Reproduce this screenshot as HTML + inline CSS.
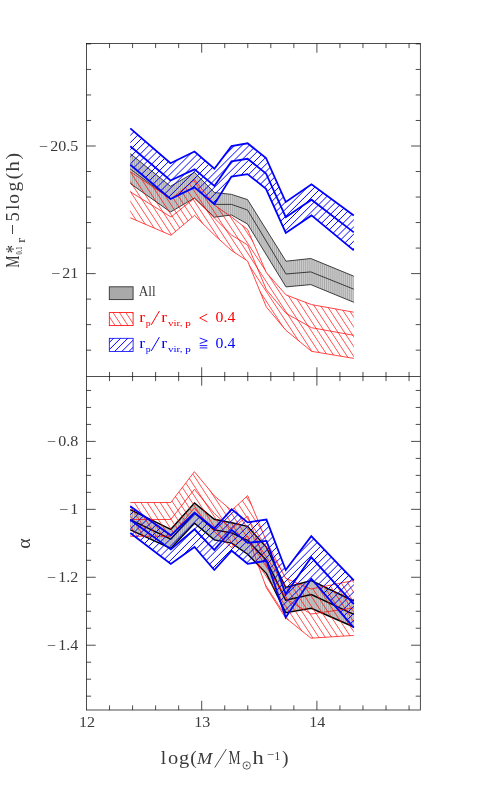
<!DOCTYPE html>
<html><head><meta charset="utf-8"><title>chart</title>
<style>html,body{margin:0;padding:0;background:#fff}svg{display:block;will-change:transform}text{font-family:"Liberation Serif",serif}</style></head><body>
<svg width="491" height="795" viewBox="0 0 491 795">
<defs>
<clipPath id="ctb"><polygon points="130.3,128.4 170.5,163.3 194.5,151.5 214.4,168.8 231.5,146.1 247.6,143.3 266.0,158.0 285.8,202.0 311.5,184.3 353.8,215.4 353.8,250.4 311.5,215.4 285.8,232.9 266.0,188.8 247.6,174.1 231.5,176.6 214.4,204.2 194.5,187.4 170.5,199.0 130.3,164.8"/></clipPath>
<clipPath id="ctg"><polygon points="130.3,153.7 170.5,186.3 194.5,172.4 214.4,192.5 231.5,194.4 247.5,199.6 286.0,261.2 310.8,258.5 353.8,276.2 353.8,302.3 310.8,284.6 286.0,286.9 247.5,224.0 231.5,215.0 214.4,217.2 194.5,198.0 170.5,212.0 130.3,183.5"/></clipPath>
<clipPath id="ctr"><polygon points="130.3,171.7 171.0,199.1 194.5,179.6 214.4,205.0 231.5,217.0 247.6,229.5 266.3,272.5 286.0,294.9 311.5,304.6 353.8,312.2 353.8,358.4 311.5,351.3 286.0,330.4 266.3,306.9 247.6,261.0 231.5,250.5 214.4,235.0 194.5,215.4 171.0,235.3 130.3,217.8"/></clipPath>
<clipPath id="cbb"><polygon points="130.3,506.3 170.8,535.3 194.5,512.6 214.3,528.5 231.7,509.3 247.6,522.4 266.5,519.6 285.7,570.0 311.3,536.1 353.8,580.4 353.8,627.7 311.3,578.7 285.7,617.4 266.5,560.8 247.6,563.8 231.7,550.7 214.3,570.0 194.5,547.0 170.8,563.9 130.3,533.0"/></clipPath>
<clipPath id="cbg"><polygon points="130.3,509.6 170.8,529.3 194.5,503.0 214.3,519.3 231.7,522.8 247.6,526.3 266.5,547.4 285.7,587.4 311.3,580.6 353.8,601.0 353.8,627.0 311.3,608.3 285.7,612.6 266.5,573.6 247.6,554.2 231.7,543.1 214.3,539.9 194.5,523.2 170.8,548.5 130.3,529.8"/></clipPath>
<clipPath id="cbr"><polygon points="130.3,502.5 170.8,502.5 194.4,471.7 214.3,495.8 231.5,510.5 247.7,495.6 266.3,541.0 285.5,578.2 311.0,589.0 353.8,580.5 353.8,635.4 311.0,638.2 285.5,617.8 266.3,587.7 247.7,536.0 231.5,547.5 214.3,531.5 194.4,508.0 170.8,536.3 130.3,536.3"/></clipPath>
<clipPath id="lr"><rect x="109.3" y="312.6" width="23.8" height="13"/></clipPath>
<clipPath id="lb"><rect x="109.3" y="338.3" width="23.8" height="13.1"/></clipPath>
</defs>
<polygon points="130.3,153.7 170.5,186.3 194.5,172.4 214.4,192.5 231.5,194.4 247.5,199.6 286.0,261.2 310.8,258.5 353.8,276.2 353.8,302.3 310.8,284.6 286.0,286.9 247.5,224.0 231.5,215.0 214.4,217.2 194.5,198.0 170.5,212.0 130.3,183.5" fill="#d0d0d0"/>
<path clip-path="url(#ctg)" d="M130.60 100V700M132.52 100V700M134.44 100V700M136.36 100V700M138.28 100V700M140.20 100V700M142.12 100V700M144.04 100V700M145.96 100V700M147.88 100V700M149.80 100V700M151.72 100V700M153.64 100V700M155.56 100V700M157.48 100V700M159.40 100V700M161.32 100V700M163.24 100V700M165.16 100V700M167.08 100V700M169.00 100V700M170.92 100V700M172.84 100V700M174.76 100V700M176.68 100V700M178.60 100V700M180.52 100V700M182.44 100V700M184.36 100V700M186.28 100V700M188.20 100V700M190.12 100V700M192.04 100V700M193.96 100V700M195.88 100V700M197.80 100V700M199.72 100V700M201.64 100V700M203.56 100V700M205.48 100V700M207.40 100V700M209.32 100V700M211.24 100V700M213.16 100V700M215.08 100V700M217.00 100V700M218.92 100V700M220.84 100V700M222.76 100V700M224.68 100V700M226.60 100V700M228.52 100V700M230.44 100V700M232.36 100V700M234.28 100V700M236.20 100V700M238.12 100V700M240.04 100V700M241.96 100V700M243.88 100V700M245.80 100V700M247.72 100V700M249.64 100V700M251.56 100V700M253.48 100V700M255.40 100V700M257.32 100V700M259.24 100V700M261.16 100V700M263.08 100V700M265.00 100V700M266.92 100V700M268.84 100V700M270.76 100V700M272.68 100V700M274.60 100V700M276.52 100V700M278.44 100V700M280.36 100V700M282.28 100V700M284.20 100V700M286.12 100V700M288.04 100V700M289.96 100V700M291.88 100V700M293.80 100V700M295.72 100V700M297.64 100V700M299.56 100V700M301.48 100V700M303.40 100V700M305.32 100V700M307.24 100V700M309.16 100V700M311.08 100V700M313.00 100V700M314.92 100V700M316.84 100V700M318.76 100V700M320.68 100V700M322.60 100V700M324.52 100V700M326.44 100V700M328.36 100V700M330.28 100V700M332.20 100V700M334.12 100V700M336.04 100V700M337.96 100V700M339.88 100V700M341.80 100V700M343.72 100V700M345.64 100V700M347.56 100V700M349.48 100V700M351.40 100V700M353.32 100V700" stroke="#a8a8a8" stroke-width="0.95" fill="none"/>
<polyline points="130.3,153.7 170.5,186.3 194.5,172.4 214.4,192.5 231.5,194.4 247.5,199.6 286.0,261.2 310.8,258.5 353.8,276.2" fill="none" stroke="#2b2b2b" stroke-width="0.9" stroke-linejoin="miter"/>
<polyline points="130.3,169.0 170.5,199.0 194.5,187.0 214.4,204.4 231.5,204.4 247.5,210.0 286.0,274.0 310.8,271.9 353.8,289.2" fill="none" stroke="#2b2b2b" stroke-width="0.9" stroke-linejoin="miter"/>
<polyline points="130.3,183.5 170.5,212.0 194.5,198.0 214.4,217.2 231.5,215.0 247.5,224.0 286.0,286.9 310.8,284.6 353.8,302.3" fill="none" stroke="#2b2b2b" stroke-width="0.9" stroke-linejoin="miter"/>
<path clip-path="url(#ctr)" d="M125.0 -367.1L360.0 -7.5M125.0 -357.2L360.0 2.3M125.0 -347.4L360.0 12.2M125.0 -337.6L360.0 22.0M125.0 -327.7L360.0 31.8M125.0 -317.9L360.0 41.6M125.0 -308.1L360.0 51.5M125.0 -298.2L360.0 61.3M125.0 -288.4L360.0 71.1M125.0 -278.6L360.0 81.0M125.0 -268.8L360.0 90.8M125.0 -258.9L360.0 100.6M125.0 -249.1L360.0 110.5M125.0 -239.3L360.0 120.3M125.0 -229.4L360.0 130.1M125.0 -219.6L360.0 139.9M125.0 -209.8L360.0 149.8M125.0 -199.9L360.0 159.6M125.0 -190.1L360.0 169.4M125.0 -180.3L360.0 179.3M125.0 -170.5L360.0 189.1M125.0 -160.6L360.0 198.9M125.0 -150.8L360.0 208.8M125.0 -141.0L360.0 218.6M125.0 -131.1L360.0 228.4M125.0 -121.3L360.0 238.2M125.0 -111.5L360.0 248.1M125.0 -101.6L360.0 257.9M125.0 -91.8L360.0 267.7M125.0 -82.0L360.0 277.6M125.0 -72.2L360.0 287.4M125.0 -62.3L360.0 297.2M125.0 -52.5L360.0 307.1M125.0 -42.7L360.0 316.9M125.0 -32.8L360.0 326.7M125.0 -23.0L360.0 336.5M125.0 -13.2L360.0 346.4M125.0 -3.3L360.0 356.2M125.0 6.5L360.0 366.0M125.0 16.3L360.0 375.9M125.0 26.1L360.0 385.7M125.0 36.0L360.0 395.5M125.0 45.8L360.0 405.4M125.0 55.6L360.0 415.2M125.0 65.5L360.0 425.0M125.0 75.3L360.0 434.8M125.0 85.1L360.0 444.7M125.0 95.0L360.0 454.5M125.0 104.8L360.0 464.3M125.0 114.6L360.0 474.2M125.0 124.4L360.0 484.0M125.0 134.3L360.0 493.8M125.0 144.1L360.0 503.7M125.0 153.9L360.0 513.5M125.0 163.8L360.0 523.3M125.0 173.6L360.0 533.1M125.0 183.4L360.0 543.0M125.0 193.3L360.0 552.8M125.0 203.1L360.0 562.6M125.0 212.9L360.0 572.5M125.0 222.7L360.0 582.3M125.0 232.6L360.0 592.1M125.0 242.4L360.0 602.0M125.0 252.2L360.0 611.8M125.0 262.1L360.0 621.6M125.0 271.9L360.0 631.4M125.0 281.7L360.0 641.3M125.0 291.6L360.0 651.1M125.0 301.4L360.0 660.9M125.0 311.2L360.0 670.8M125.0 321.0L360.0 680.6M125.0 330.9L360.0 690.4M125.0 340.7L360.0 700.3M125.0 350.5L360.0 710.1M125.0 360.4L360.0 719.9M125.0 370.2L360.0 729.7M125.0 380.0L360.0 739.6M125.0 389.9L360.0 749.4M125.0 399.7L360.0 759.2M125.0 409.5L360.0 769.1M125.0 419.3L360.0 778.9M125.0 429.2L360.0 788.7M125.0 439.0L360.0 798.6M125.0 448.8L360.0 808.4M125.0 458.7L360.0 818.2M125.0 468.5L360.0 828.0M125.0 478.3L360.0 837.9M125.0 488.2L360.0 847.7M125.0 498.0L360.0 857.5M125.0 507.8L360.0 867.4M125.0 517.6L360.0 877.2M125.0 527.5L360.0 887.0M125.0 537.3L360.0 896.9M125.0 547.1L360.0 906.7M125.0 557.0L360.0 916.5M125.0 566.8L360.0 926.3M125.0 576.6L360.0 936.2M125.0 586.5L360.0 946.0M125.0 596.3L360.0 955.8M125.0 606.1L360.0 965.7M125.0 615.9L360.0 975.5M125.0 625.8L360.0 985.3M125.0 635.6L360.0 995.2M125.0 645.4L360.0 1005.0M125.0 655.3L360.0 1014.8M125.0 665.1L360.0 1024.6M125.0 674.9L360.0 1034.5M125.0 684.8L360.0 1044.3M125.0 694.6L360.0 1054.1M125.0 704.4L360.0 1064.0M125.0 714.2L360.0 1073.8M125.0 724.1L360.0 1083.6M125.0 733.9L360.0 1093.5M125.0 743.7L360.0 1103.3M125.0 753.6L360.0 1113.1M125.0 763.4L360.0 1122.9M125.0 773.2L360.0 1132.8M125.0 783.1L360.0 1142.6M125.0 792.9L360.0 1152.4M125.0 802.7L360.0 1162.3" stroke="#f00" stroke-width="0.68" fill="none"/>
<polyline points="130.3,171.7 171.0,199.1 194.5,179.6 214.4,205.0 231.5,217.0 247.6,229.5 266.3,272.5 286.0,294.9 311.5,304.6 353.8,312.2" fill="none" stroke="#f00" stroke-width="0.72" stroke-linejoin="miter"/>
<polyline points="130.3,191.8 171.0,217.0 194.5,198.2 214.4,218.0 231.5,235.0 247.6,245.0 266.3,289.5 286.0,313.3 311.5,327.7 353.8,335.3" fill="none" stroke="#f00" stroke-width="0.72" stroke-linejoin="miter"/>
<polyline points="130.3,217.8 171.0,235.3 194.5,215.4 214.4,235.0 231.5,250.5 247.6,261.0 266.3,306.9 286.0,330.4 311.5,351.3 353.8,358.4" fill="none" stroke="#f00" stroke-width="0.72" stroke-linejoin="miter"/>
<path clip-path="url(#ctb)" d="M125.0 -2.4L360.0 -237.4M125.0 4.7L360.0 -230.3M125.0 11.9L360.0 -223.1M125.0 19.0L360.0 -216.0M125.0 26.2L360.0 -208.8M125.0 33.3L360.0 -201.7M125.0 40.5L360.0 -194.5M125.0 47.7L360.0 -187.3M125.0 54.8L360.0 -180.2M125.0 62.0L360.0 -173.0M125.0 69.1L360.0 -165.9M125.0 76.3L360.0 -158.7M125.0 83.4L360.0 -151.6M125.0 90.6L360.0 -144.4M125.0 97.8L360.0 -137.2M125.0 104.9L360.0 -130.1M125.0 112.1L360.0 -122.9M125.0 119.2L360.0 -115.8M125.0 126.4L360.0 -108.6M125.0 133.5L360.0 -101.5M125.0 140.7L360.0 -94.3M125.0 147.9L360.0 -87.1M125.0 155.0L360.0 -80.0M125.0 162.2L360.0 -72.8M125.0 169.3L360.0 -65.7M125.0 176.5L360.0 -58.5M125.0 183.6L360.0 -51.4M125.0 190.8L360.0 -44.2M125.0 198.0L360.0 -37.0M125.0 205.1L360.0 -29.9M125.0 212.3L360.0 -22.7M125.0 219.4L360.0 -15.6M125.0 226.6L360.0 -8.4M125.0 233.7L360.0 -1.3M125.0 240.9L360.0 5.9M125.0 248.1L360.0 13.1M125.0 255.2L360.0 20.2M125.0 262.4L360.0 27.4M125.0 269.5L360.0 34.5M125.0 276.7L360.0 41.7M125.0 283.8L360.0 48.8M125.0 291.0L360.0 56.0M125.0 298.2L360.0 63.2M125.0 305.3L360.0 70.3M125.0 312.5L360.0 77.5M125.0 319.6L360.0 84.6M125.0 326.8L360.0 91.8M125.0 333.9L360.0 98.9M125.0 341.1L360.0 106.1M125.0 348.3L360.0 113.3M125.0 355.4L360.0 120.4M125.0 362.6L360.0 127.6M125.0 369.7L360.0 134.7M125.0 376.9L360.0 141.9M125.0 384.0L360.0 149.0M125.0 391.2L360.0 156.2M125.0 398.4L360.0 163.4M125.0 405.5L360.0 170.5M125.0 412.7L360.0 177.7M125.0 419.8L360.0 184.8M125.0 427.0L360.0 192.0M125.0 434.1L360.0 199.1M125.0 441.3L360.0 206.3M125.0 448.5L360.0 213.5M125.0 455.6L360.0 220.6M125.0 462.8L360.0 227.8M125.0 469.9L360.0 234.9M125.0 477.1L360.0 242.1M125.0 484.2L360.0 249.2M125.0 491.4L360.0 256.4M125.0 498.5L360.0 263.5M125.0 505.7L360.0 270.7M125.0 512.9L360.0 277.9M125.0 520.0L360.0 285.0M125.0 527.2L360.0 292.2M125.0 534.3L360.0 299.3M125.0 541.5L360.0 306.5M125.0 548.6L360.0 313.6M125.0 555.8L360.0 320.8M125.0 563.0L360.0 328.0M125.0 570.1L360.0 335.1M125.0 577.3L360.0 342.3M125.0 584.4L360.0 349.4M125.0 591.6L360.0 356.6M125.0 598.7L360.0 363.7M125.0 605.9L360.0 370.9M125.0 613.1L360.0 378.1M125.0 620.2L360.0 385.2M125.0 627.4L360.0 392.4M125.0 634.5L360.0 399.5M125.0 641.7L360.0 406.7M125.0 648.8L360.0 413.8M125.0 656.0L360.0 421.0M125.0 663.2L360.0 428.2M125.0 670.3L360.0 435.3M125.0 677.5L360.0 442.5M125.0 684.6L360.0 449.6M125.0 691.8L360.0 456.8M125.0 698.9L360.0 463.9M125.0 706.1L360.0 471.1M125.0 713.3L360.0 478.3M125.0 720.4L360.0 485.4M125.0 727.6L360.0 492.6M125.0 734.7L360.0 499.7M125.0 741.9L360.0 506.9M125.0 749.0L360.0 514.0M125.0 756.2L360.0 521.2M125.0 763.4L360.0 528.4M125.0 770.5L360.0 535.5M125.0 777.7L360.0 542.7M125.0 784.8L360.0 549.8M125.0 792.0L360.0 557.0M125.0 799.1L360.0 564.1M125.0 806.3L360.0 571.3M125.0 813.5L360.0 578.5M125.0 820.6L360.0 585.6M125.0 827.8L360.0 592.8M125.0 834.9L360.0 599.9M125.0 842.1L360.0 607.1M125.0 849.2L360.0 614.2M125.0 856.4L360.0 621.4M125.0 863.6L360.0 628.6M125.0 870.7L360.0 635.7M125.0 877.9L360.0 642.9M125.0 885.0L360.0 650.0M125.0 892.2L360.0 657.2M125.0 899.3L360.0 664.3M125.0 906.5L360.0 671.5M125.0 913.7L360.0 678.7M125.0 920.8L360.0 685.8M125.0 928.0L360.0 693.0M125.0 935.1L360.0 700.1M125.0 942.3L360.0 707.3M125.0 949.4L360.0 714.4M125.0 956.6L360.0 721.6M125.0 963.8L360.0 728.8M125.0 970.9L360.0 735.9M125.0 978.1L360.0 743.1M125.0 985.2L360.0 750.2M125.0 992.4L360.0 757.4M125.0 999.5L360.0 764.5M125.0 1006.7L360.0 771.7M125.0 1013.9L360.0 778.9M125.0 1021.0L360.0 786.0M125.0 1028.2L360.0 793.2M125.0 1035.3L360.0 800.3" stroke="#00f" stroke-width="1.0" fill="none"/>
<polyline points="130.3,128.4 170.5,163.3 194.5,151.5 214.4,168.8 231.5,146.1 247.6,143.3 266.0,158.0 285.8,202.0 311.5,184.3 353.8,215.4" fill="none" stroke="#00f" stroke-width="1.8" stroke-linejoin="miter"/>
<polyline points="130.3,146.3 170.5,180.5 194.5,169.4 214.4,185.9 231.5,161.4 247.6,158.8 266.0,173.5 285.8,217.2 311.5,199.7 353.8,232.4" fill="none" stroke="#00f" stroke-width="1.8" stroke-linejoin="miter"/>
<polyline points="130.3,164.8 170.5,199.0 194.5,187.4 214.4,204.2 231.5,176.6 247.6,174.1 266.0,188.8 285.8,232.9 311.5,215.4 353.8,250.4" fill="none" stroke="#00f" stroke-width="1.8" stroke-linejoin="miter"/>
<polygon points="130.3,509.6 170.8,529.3 194.5,503.0 214.3,519.3 231.7,522.8 247.6,526.3 266.5,547.4 285.7,587.4 311.3,580.6 353.8,601.0 353.8,627.0 311.3,608.3 285.7,612.6 266.5,573.6 247.6,554.2 231.7,543.1 214.3,539.9 194.5,523.2 170.8,548.5 130.3,529.8" fill="#d0d0d0"/>
<path clip-path="url(#cbg)" d="M130.60 100V700M132.52 100V700M134.44 100V700M136.36 100V700M138.28 100V700M140.20 100V700M142.12 100V700M144.04 100V700M145.96 100V700M147.88 100V700M149.80 100V700M151.72 100V700M153.64 100V700M155.56 100V700M157.48 100V700M159.40 100V700M161.32 100V700M163.24 100V700M165.16 100V700M167.08 100V700M169.00 100V700M170.92 100V700M172.84 100V700M174.76 100V700M176.68 100V700M178.60 100V700M180.52 100V700M182.44 100V700M184.36 100V700M186.28 100V700M188.20 100V700M190.12 100V700M192.04 100V700M193.96 100V700M195.88 100V700M197.80 100V700M199.72 100V700M201.64 100V700M203.56 100V700M205.48 100V700M207.40 100V700M209.32 100V700M211.24 100V700M213.16 100V700M215.08 100V700M217.00 100V700M218.92 100V700M220.84 100V700M222.76 100V700M224.68 100V700M226.60 100V700M228.52 100V700M230.44 100V700M232.36 100V700M234.28 100V700M236.20 100V700M238.12 100V700M240.04 100V700M241.96 100V700M243.88 100V700M245.80 100V700M247.72 100V700M249.64 100V700M251.56 100V700M253.48 100V700M255.40 100V700M257.32 100V700M259.24 100V700M261.16 100V700M263.08 100V700M265.00 100V700M266.92 100V700M268.84 100V700M270.76 100V700M272.68 100V700M274.60 100V700M276.52 100V700M278.44 100V700M280.36 100V700M282.28 100V700M284.20 100V700M286.12 100V700M288.04 100V700M289.96 100V700M291.88 100V700M293.80 100V700M295.72 100V700M297.64 100V700M299.56 100V700M301.48 100V700M303.40 100V700M305.32 100V700M307.24 100V700M309.16 100V700M311.08 100V700M313.00 100V700M314.92 100V700M316.84 100V700M318.76 100V700M320.68 100V700M322.60 100V700M324.52 100V700M326.44 100V700M328.36 100V700M330.28 100V700M332.20 100V700M334.12 100V700M336.04 100V700M337.96 100V700M339.88 100V700M341.80 100V700M343.72 100V700M345.64 100V700M347.56 100V700M349.48 100V700M351.40 100V700M353.32 100V700" stroke="#a8a8a8" stroke-width="0.95" fill="none"/>
<polyline points="130.3,509.6 170.8,529.3 194.5,503.0 214.3,519.3 231.7,522.8 247.6,526.3 266.5,547.4 285.7,587.4 311.3,580.6 353.8,601.0" fill="none" stroke="#000" stroke-width="1.4" stroke-linejoin="miter"/>
<polyline points="130.3,519.6 170.8,539.1 194.5,513.0 214.3,529.9 231.7,532.9 247.6,540.3 266.5,560.5 285.7,600.2 311.3,594.6 353.8,614.3" fill="none" stroke="#000" stroke-width="1.4" stroke-linejoin="miter"/>
<polyline points="130.3,529.8 170.8,548.5 194.5,523.2 214.3,539.9 231.7,543.1 247.6,554.2 266.5,573.6 285.7,612.6 311.3,608.3 353.8,627.0" fill="none" stroke="#000" stroke-width="1.4" stroke-linejoin="miter"/>
<path clip-path="url(#cbr)" d="M125.0 -367.1L360.0 -7.5M125.0 -357.2L360.0 2.3M125.0 -347.4L360.0 12.2M125.0 -337.6L360.0 22.0M125.0 -327.7L360.0 31.8M125.0 -317.9L360.0 41.6M125.0 -308.1L360.0 51.5M125.0 -298.2L360.0 61.3M125.0 -288.4L360.0 71.1M125.0 -278.6L360.0 81.0M125.0 -268.8L360.0 90.8M125.0 -258.9L360.0 100.6M125.0 -249.1L360.0 110.5M125.0 -239.3L360.0 120.3M125.0 -229.4L360.0 130.1M125.0 -219.6L360.0 139.9M125.0 -209.8L360.0 149.8M125.0 -199.9L360.0 159.6M125.0 -190.1L360.0 169.4M125.0 -180.3L360.0 179.3M125.0 -170.5L360.0 189.1M125.0 -160.6L360.0 198.9M125.0 -150.8L360.0 208.8M125.0 -141.0L360.0 218.6M125.0 -131.1L360.0 228.4M125.0 -121.3L360.0 238.2M125.0 -111.5L360.0 248.1M125.0 -101.6L360.0 257.9M125.0 -91.8L360.0 267.7M125.0 -82.0L360.0 277.6M125.0 -72.2L360.0 287.4M125.0 -62.3L360.0 297.2M125.0 -52.5L360.0 307.1M125.0 -42.7L360.0 316.9M125.0 -32.8L360.0 326.7M125.0 -23.0L360.0 336.5M125.0 -13.2L360.0 346.4M125.0 -3.3L360.0 356.2M125.0 6.5L360.0 366.0M125.0 16.3L360.0 375.9M125.0 26.1L360.0 385.7M125.0 36.0L360.0 395.5M125.0 45.8L360.0 405.4M125.0 55.6L360.0 415.2M125.0 65.5L360.0 425.0M125.0 75.3L360.0 434.8M125.0 85.1L360.0 444.7M125.0 95.0L360.0 454.5M125.0 104.8L360.0 464.3M125.0 114.6L360.0 474.2M125.0 124.4L360.0 484.0M125.0 134.3L360.0 493.8M125.0 144.1L360.0 503.7M125.0 153.9L360.0 513.5M125.0 163.8L360.0 523.3M125.0 173.6L360.0 533.1M125.0 183.4L360.0 543.0M125.0 193.3L360.0 552.8M125.0 203.1L360.0 562.6M125.0 212.9L360.0 572.5M125.0 222.7L360.0 582.3M125.0 232.6L360.0 592.1M125.0 242.4L360.0 602.0M125.0 252.2L360.0 611.8M125.0 262.1L360.0 621.6M125.0 271.9L360.0 631.4M125.0 281.7L360.0 641.3M125.0 291.6L360.0 651.1M125.0 301.4L360.0 660.9M125.0 311.2L360.0 670.8M125.0 321.0L360.0 680.6M125.0 330.9L360.0 690.4M125.0 340.7L360.0 700.3M125.0 350.5L360.0 710.1M125.0 360.4L360.0 719.9M125.0 370.2L360.0 729.7M125.0 380.0L360.0 739.6M125.0 389.9L360.0 749.4M125.0 399.7L360.0 759.2M125.0 409.5L360.0 769.1M125.0 419.3L360.0 778.9M125.0 429.2L360.0 788.7M125.0 439.0L360.0 798.6M125.0 448.8L360.0 808.4M125.0 458.7L360.0 818.2M125.0 468.5L360.0 828.0M125.0 478.3L360.0 837.9M125.0 488.2L360.0 847.7M125.0 498.0L360.0 857.5M125.0 507.8L360.0 867.4M125.0 517.6L360.0 877.2M125.0 527.5L360.0 887.0M125.0 537.3L360.0 896.9M125.0 547.1L360.0 906.7M125.0 557.0L360.0 916.5M125.0 566.8L360.0 926.3M125.0 576.6L360.0 936.2M125.0 586.5L360.0 946.0M125.0 596.3L360.0 955.8M125.0 606.1L360.0 965.7M125.0 615.9L360.0 975.5M125.0 625.8L360.0 985.3M125.0 635.6L360.0 995.2M125.0 645.4L360.0 1005.0M125.0 655.3L360.0 1014.8M125.0 665.1L360.0 1024.6M125.0 674.9L360.0 1034.5M125.0 684.8L360.0 1044.3M125.0 694.6L360.0 1054.1M125.0 704.4L360.0 1064.0M125.0 714.2L360.0 1073.8M125.0 724.1L360.0 1083.6M125.0 733.9L360.0 1093.5M125.0 743.7L360.0 1103.3M125.0 753.6L360.0 1113.1M125.0 763.4L360.0 1122.9M125.0 773.2L360.0 1132.8M125.0 783.1L360.0 1142.6M125.0 792.9L360.0 1152.4M125.0 802.7L360.0 1162.3" stroke="#f00" stroke-width="0.68" fill="none"/>
<polyline points="130.3,502.5 170.8,502.5 194.4,471.7 214.3,495.8 231.5,510.5 247.7,495.6 266.3,541.0 285.5,578.2 311.0,589.0 353.8,580.5" fill="none" stroke="#f00" stroke-width="0.72" stroke-linejoin="miter"/>
<polyline points="130.3,519.5 170.8,519.5 194.4,489.3 214.3,513.5 231.5,529.0 247.7,516.0 266.3,565.0 285.5,598.5 311.0,614.0 353.8,607.9" fill="none" stroke="#f00" stroke-width="0.72" stroke-linejoin="miter"/>
<polyline points="130.3,536.3 170.8,536.3 194.4,508.0 214.3,531.5 231.5,547.5 247.7,536.0 266.3,587.7 285.5,617.8 311.0,638.2 353.8,635.4" fill="none" stroke="#f00" stroke-width="0.72" stroke-linejoin="miter"/>
<path clip-path="url(#cbb)" d="M125.0 -2.4L360.0 -237.4M125.0 4.7L360.0 -230.3M125.0 11.9L360.0 -223.1M125.0 19.0L360.0 -216.0M125.0 26.2L360.0 -208.8M125.0 33.3L360.0 -201.7M125.0 40.5L360.0 -194.5M125.0 47.7L360.0 -187.3M125.0 54.8L360.0 -180.2M125.0 62.0L360.0 -173.0M125.0 69.1L360.0 -165.9M125.0 76.3L360.0 -158.7M125.0 83.4L360.0 -151.6M125.0 90.6L360.0 -144.4M125.0 97.8L360.0 -137.2M125.0 104.9L360.0 -130.1M125.0 112.1L360.0 -122.9M125.0 119.2L360.0 -115.8M125.0 126.4L360.0 -108.6M125.0 133.5L360.0 -101.5M125.0 140.7L360.0 -94.3M125.0 147.9L360.0 -87.1M125.0 155.0L360.0 -80.0M125.0 162.2L360.0 -72.8M125.0 169.3L360.0 -65.7M125.0 176.5L360.0 -58.5M125.0 183.6L360.0 -51.4M125.0 190.8L360.0 -44.2M125.0 198.0L360.0 -37.0M125.0 205.1L360.0 -29.9M125.0 212.3L360.0 -22.7M125.0 219.4L360.0 -15.6M125.0 226.6L360.0 -8.4M125.0 233.7L360.0 -1.3M125.0 240.9L360.0 5.9M125.0 248.1L360.0 13.1M125.0 255.2L360.0 20.2M125.0 262.4L360.0 27.4M125.0 269.5L360.0 34.5M125.0 276.7L360.0 41.7M125.0 283.8L360.0 48.8M125.0 291.0L360.0 56.0M125.0 298.2L360.0 63.2M125.0 305.3L360.0 70.3M125.0 312.5L360.0 77.5M125.0 319.6L360.0 84.6M125.0 326.8L360.0 91.8M125.0 333.9L360.0 98.9M125.0 341.1L360.0 106.1M125.0 348.3L360.0 113.3M125.0 355.4L360.0 120.4M125.0 362.6L360.0 127.6M125.0 369.7L360.0 134.7M125.0 376.9L360.0 141.9M125.0 384.0L360.0 149.0M125.0 391.2L360.0 156.2M125.0 398.4L360.0 163.4M125.0 405.5L360.0 170.5M125.0 412.7L360.0 177.7M125.0 419.8L360.0 184.8M125.0 427.0L360.0 192.0M125.0 434.1L360.0 199.1M125.0 441.3L360.0 206.3M125.0 448.5L360.0 213.5M125.0 455.6L360.0 220.6M125.0 462.8L360.0 227.8M125.0 469.9L360.0 234.9M125.0 477.1L360.0 242.1M125.0 484.2L360.0 249.2M125.0 491.4L360.0 256.4M125.0 498.5L360.0 263.5M125.0 505.7L360.0 270.7M125.0 512.9L360.0 277.9M125.0 520.0L360.0 285.0M125.0 527.2L360.0 292.2M125.0 534.3L360.0 299.3M125.0 541.5L360.0 306.5M125.0 548.6L360.0 313.6M125.0 555.8L360.0 320.8M125.0 563.0L360.0 328.0M125.0 570.1L360.0 335.1M125.0 577.3L360.0 342.3M125.0 584.4L360.0 349.4M125.0 591.6L360.0 356.6M125.0 598.7L360.0 363.7M125.0 605.9L360.0 370.9M125.0 613.1L360.0 378.1M125.0 620.2L360.0 385.2M125.0 627.4L360.0 392.4M125.0 634.5L360.0 399.5M125.0 641.7L360.0 406.7M125.0 648.8L360.0 413.8M125.0 656.0L360.0 421.0M125.0 663.2L360.0 428.2M125.0 670.3L360.0 435.3M125.0 677.5L360.0 442.5M125.0 684.6L360.0 449.6M125.0 691.8L360.0 456.8M125.0 698.9L360.0 463.9M125.0 706.1L360.0 471.1M125.0 713.3L360.0 478.3M125.0 720.4L360.0 485.4M125.0 727.6L360.0 492.6M125.0 734.7L360.0 499.7M125.0 741.9L360.0 506.9M125.0 749.0L360.0 514.0M125.0 756.2L360.0 521.2M125.0 763.4L360.0 528.4M125.0 770.5L360.0 535.5M125.0 777.7L360.0 542.7M125.0 784.8L360.0 549.8M125.0 792.0L360.0 557.0M125.0 799.1L360.0 564.1M125.0 806.3L360.0 571.3M125.0 813.5L360.0 578.5M125.0 820.6L360.0 585.6M125.0 827.8L360.0 592.8M125.0 834.9L360.0 599.9M125.0 842.1L360.0 607.1M125.0 849.2L360.0 614.2M125.0 856.4L360.0 621.4M125.0 863.6L360.0 628.6M125.0 870.7L360.0 635.7M125.0 877.9L360.0 642.9M125.0 885.0L360.0 650.0M125.0 892.2L360.0 657.2M125.0 899.3L360.0 664.3M125.0 906.5L360.0 671.5M125.0 913.7L360.0 678.7M125.0 920.8L360.0 685.8M125.0 928.0L360.0 693.0M125.0 935.1L360.0 700.1M125.0 942.3L360.0 707.3M125.0 949.4L360.0 714.4M125.0 956.6L360.0 721.6M125.0 963.8L360.0 728.8M125.0 970.9L360.0 735.9M125.0 978.1L360.0 743.1M125.0 985.2L360.0 750.2M125.0 992.4L360.0 757.4M125.0 999.5L360.0 764.5M125.0 1006.7L360.0 771.7M125.0 1013.9L360.0 778.9M125.0 1021.0L360.0 786.0M125.0 1028.2L360.0 793.2M125.0 1035.3L360.0 800.3" stroke="#00f" stroke-width="1.0" fill="none"/>
<polyline points="130.3,506.3 170.8,535.3 194.5,512.6 214.3,528.5 231.7,509.3 247.6,522.4 266.5,519.6 285.7,570.0 311.3,536.1 353.8,580.4" fill="none" stroke="#00f" stroke-width="1.8" stroke-linejoin="miter"/>
<polyline points="130.3,519.8 170.8,549.4 194.5,529.3 214.3,549.9 231.7,529.9 247.6,542.9 266.5,540.9 285.7,594.0 311.3,557.3 353.8,604.1" fill="none" stroke="#00f" stroke-width="1.8" stroke-linejoin="miter"/>
<polyline points="130.3,533.0 170.8,563.9 194.5,547.0 214.3,570.0 231.7,550.7 247.6,563.8 266.5,560.8 285.7,617.4 311.3,578.7 353.8,627.7" fill="none" stroke="#00f" stroke-width="1.8" stroke-linejoin="miter"/>
<rect x="109.3" y="286.8" width="23.8" height="12.8" fill="#a9a9a9" stroke="#333" stroke-width="0.9"/>
<path clip-path="url(#lr)" d="M105.0 241.3L140.0 294.8M105.0 251.1L140.0 304.7M105.0 261.0L140.0 314.5M105.0 270.8L140.0 324.3M105.0 280.6L140.0 334.2M105.0 290.4L140.0 344.0M105.0 300.3L140.0 353.8M105.0 310.1L140.0 363.7M105.0 319.9L140.0 373.5M105.0 329.8L140.0 383.3M105.0 339.6L140.0 393.1" stroke="#f00" stroke-width="0.68" fill="none"/>
<rect x="109.3" y="312.6" width="23.8" height="13" fill="none" stroke="#f00" stroke-width="0.8"/>
<path clip-path="url(#lb)" d="M105.0 325.3L140.0 290.3M105.0 332.5L140.0 297.5M105.0 339.6L140.0 304.6M105.0 346.8L140.0 311.8M105.0 353.9L140.0 318.9M105.0 361.1L140.0 326.1M105.0 368.3L140.0 333.3M105.0 375.4L140.0 340.4M105.0 382.6L140.0 347.6M105.0 389.7L140.0 354.7M105.0 396.9L140.0 361.9" stroke="#00f" stroke-width="1.0" fill="none"/>
<rect x="109.3" y="338.3" width="23.8" height="13.1" fill="none" stroke="#00f" stroke-width="0.8"/>
<g stroke="#000" stroke-width="0.7" fill="none">
<rect x="86.5" y="43.5" width="333.8" height="666.5"/>
<line x1="86.5" y1="376.5" x2="420.3" y2="376.5"/>
<path d="M109.54 43.5v4.6M109.54 710.0v-4.6M109.54 371.9v9.2M132.58 43.5v4.6M132.58 710.0v-4.6M132.58 371.9v9.2M155.62 43.5v4.6M155.62 710.0v-4.6M155.62 371.9v9.2M178.66 43.5v4.6M178.66 710.0v-4.6M178.66 371.9v9.2M201.70 43.5v9.2M201.70 710.0v-9.2M201.70 367.3v18.4M224.74 43.5v4.6M224.74 710.0v-4.6M224.74 371.9v9.2M247.78 43.5v4.6M247.78 710.0v-4.6M247.78 371.9v9.2M270.82 43.5v4.6M270.82 710.0v-4.6M270.82 371.9v9.2M293.86 43.5v4.6M293.86 710.0v-4.6M293.86 371.9v9.2M316.90 43.5v9.2M316.90 710.0v-9.2M316.90 367.3v18.4M339.94 43.5v4.6M339.94 710.0v-4.6M339.94 371.9v9.2M362.98 43.5v4.6M362.98 710.0v-4.6M362.98 371.9v9.2M386.02 43.5v4.6M386.02 710.0v-4.6M386.02 371.9v9.2M409.06 43.5v4.6M409.06 710.0v-4.6M409.06 371.9v9.2M86.5 43.92h4.6M420.3 43.92h-4.6M86.5 69.44h4.6M420.3 69.44h-4.6M86.5 94.96h4.6M420.3 94.96h-4.6M86.5 120.48h4.6M420.3 120.48h-4.6M86.5 146.00h9.2M420.3 146.00h-9.2M86.5 171.52h4.6M420.3 171.52h-4.6M86.5 197.04h4.6M420.3 197.04h-4.6M86.5 222.56h4.6M420.3 222.56h-4.6M86.5 248.08h4.6M420.3 248.08h-4.6M86.5 273.60h9.2M420.3 273.60h-9.2M86.5 299.12h4.6M420.3 299.12h-4.6M86.5 324.64h4.6M420.3 324.64h-4.6M86.5 350.16h4.6M420.3 350.16h-4.6M86.5 390.44h4.6M420.3 390.44h-4.6M86.5 407.43h4.6M420.3 407.43h-4.6M86.5 424.41h4.6M420.3 424.41h-4.6M86.5 441.40h9.2M420.3 441.40h-9.2M86.5 458.38h4.6M420.3 458.38h-4.6M86.5 475.37h4.6M420.3 475.37h-4.6M86.5 492.35h4.6M420.3 492.35h-4.6M86.5 509.34h9.2M420.3 509.34h-9.2M86.5 526.32h4.6M420.3 526.32h-4.6M86.5 543.31h4.6M420.3 543.31h-4.6M86.5 560.29h4.6M420.3 560.29h-4.6M86.5 577.28h9.2M420.3 577.28h-9.2M86.5 594.26h4.6M420.3 594.26h-4.6M86.5 611.25h4.6M420.3 611.25h-4.6M86.5 628.23h4.6M420.3 628.23h-4.6M86.5 645.22h9.2M420.3 645.22h-9.2M86.5 662.20h4.6M420.3 662.20h-4.6M86.5 679.19h4.6M420.3 679.19h-4.6M86.5 696.17h4.6M420.3 696.17h-4.6"/>
</g>
<g fill="#3a3a3a">
<text transform="translate(78.2 150.6) scale(1.18 1)" text-anchor="end" font-size="13.6">20.5</text>
<text transform="translate(48.1 150.6) scale(1.18 1)" text-anchor="end" font-size="13.6">−</text>
<text transform="translate(78.2 278.2) scale(1.18 1)" text-anchor="end" font-size="13.6">21</text>
<text transform="translate(60.2 278.2) scale(1.18 1)" text-anchor="end" font-size="13.6">−</text>
<text transform="translate(78.2 446.0) scale(1.18 1)" text-anchor="end" font-size="13.6">0.8</text>
<text transform="translate(56.1 446.0) scale(1.18 1)" text-anchor="end" font-size="13.6">−</text>
<text transform="translate(78.2 513.9) scale(1.18 1)" text-anchor="end" font-size="13.6">1</text>
<text transform="translate(68.2 513.9) scale(1.18 1)" text-anchor="end" font-size="13.6">−</text>
<text transform="translate(78.2 581.5) scale(1.18 1)" text-anchor="end" font-size="13.6">1.2</text>
<text transform="translate(56.1 581.5) scale(1.18 1)" text-anchor="end" font-size="13.6">−</text>
<text transform="translate(78.2 649.8) scale(1.18 1)" text-anchor="end" font-size="13.6">1.4</text>
<text transform="translate(56.1 649.8) scale(1.18 1)" text-anchor="end" font-size="13.6">−</text>
<text transform="translate(87.1 727.1) scale(1.18 1)" text-anchor="middle" font-size="13.6">12</text>
<text transform="translate(202.3 727.1) scale(1.18 1)" text-anchor="middle" font-size="13.6">13</text>
<text transform="translate(317.3 727.1) scale(1.18 1)" text-anchor="middle" font-size="13.6">14</text>
<text transform="translate(138.8 296.3) scale(0.96 1)" text-anchor="start" font-size="13.8">All</text>
</g>
<g fill="#f00">
<text transform="translate(142.00 321.80) scale(1.15 1)" text-anchor="middle" font-size="15">r</text>
<text transform="translate(148.20 325.90) scale(1.1 1)" text-anchor="middle" font-size="9.0">p</text>
<line x1="151.3" y1="324.8" x2="159.4" y2="311.0" stroke="#f00" stroke-width="1.0"/>
<text transform="translate(164.10 321.80) scale(1.15 1)" text-anchor="middle" font-size="15">r</text>
<text transform="translate(167.9 325.9) scale(1.26 1)" text-anchor="start" font-size="8.8">vir, p</text>
<text transform="translate(215.6 321.8) scale(1.08 1)" text-anchor="start" font-size="14.6">0.4</text>
</g>
<path d="M207.3 314.0L199.7 317.9L207.3 321.8" fill="none" stroke="#f00" stroke-width="0.9"/>
<g fill="#00f">
<text transform="translate(142.00 347.90) scale(1.15 1)" text-anchor="middle" font-size="15">r</text>
<text transform="translate(148.20 352.00) scale(1.1 1)" text-anchor="middle" font-size="9.0">p</text>
<line x1="151.3" y1="350.9" x2="159.4" y2="337.1" stroke="#00f" stroke-width="1.0"/>
<text transform="translate(164.10 347.90) scale(1.15 1)" text-anchor="middle" font-size="15">r</text>
<text transform="translate(167.9 352.0) scale(1.26 1)" text-anchor="start" font-size="8.8">vir, p</text>
<text transform="translate(215.6 347.9) scale(1.08 1)" text-anchor="start" font-size="14.6">0.4</text>
</g>
<path d="M199.7 338.0L207.3 340.8L199.7 343.6M199.7 345.6H207.3M199.7 347.9H207.3" fill="none" stroke="#00f" stroke-width="0.9"/>
<g transform="translate(19.0 267.6) rotate(-90)" fill="#3a3a3a">
<text transform="translate(6.00 0.00) scale(0.7 1)" text-anchor="middle" font-size="19.6">M</text>
<text transform="translate(18.60 0.70) scale(0.8 1)" text-anchor="middle" font-size="21">*</text>
<text transform="translate(17.00 3.00) scale(0.72 1)" text-anchor="middle" font-size="8.8" fill="#111">0.1</text>
<text transform="translate(27.20 6.00) scale(1.1 1)" text-anchor="middle" font-size="13">r</text>
<text transform="translate(38.20 0.00) scale(1.0 1)" text-anchor="middle" font-size="19.5">−</text>
<text transform="translate(50.70 0.00) scale(0.95 1)" text-anchor="middle" font-size="19.5">5</text>
<text transform="translate(60.40 0.00) scale(1.0 1)" text-anchor="middle" font-size="19.5">l</text>
<text transform="translate(68.80 0.00) scale(1.0 1)" text-anchor="middle" font-size="19.5">o</text>
<text transform="translate(80.90 0.00) scale(1.0 1)" text-anchor="middle" font-size="19.5">g</text>
<text transform="translate(91.50 0.00) scale(1.0 1)" text-anchor="middle" font-size="19.5">(</text>
<text transform="translate(101.10 0.00) scale(1.1 1)" text-anchor="middle" font-size="19.5">h</text>
<text transform="translate(111.40 0.00) scale(1.0 1)" text-anchor="middle" font-size="19.5">)</text>
</g>
<g transform="translate(30.3 543.5) rotate(-90)" fill="#3a3a3a">
<text transform="translate(0.00 0.00) scale(1.05 1)" text-anchor="middle" font-size="19">α</text>
</g>
<g fill="#3a3a3a">
<text transform="translate(163.50 763.50) scale(1.0 1)" text-anchor="middle" font-size="19.5">l</text>
<text transform="translate(173.20 763.50) scale(1.05 1)" text-anchor="middle" font-size="19.5">o</text>
<text transform="translate(184.20 763.50) scale(1.05 1)" text-anchor="middle" font-size="19.5">g</text>
<text transform="translate(193.60 763.50) scale(1.0 1)" text-anchor="middle" font-size="19.5">(</text>
<text transform="translate(204.60 763.50) scale(1.05 1)" text-anchor="middle" font-size="17.5" font-style="italic">M</text>
<text transform="translate(234.50 763.50) scale(0.74 1)" text-anchor="middle" font-size="18.4">M</text>
<text transform="translate(258.10 763.50) scale(1.15 1)" text-anchor="middle" font-size="19.5">h</text>
<text transform="translate(270.50 758.90) scale(1.05 1)" text-anchor="middle" font-size="12.5">−</text>
<text transform="translate(277.30 760.20) scale(1.0 1)" text-anchor="middle" font-size="11.5">1</text>
<text transform="translate(285.20 763.50) scale(1.0 1)" text-anchor="middle" font-size="19.5">)</text>
</g>
<line x1="214.8" y1="767.5" x2="226.4" y2="749.0" stroke="#3a3a3a" stroke-width="0.9"/>
<circle cx="246.7" cy="765.5" r="3.7" fill="none" stroke="#3a3a3a" stroke-width="0.8"/><circle cx="246.7" cy="765.5" r="0.9" fill="#3a3a3a"/>
</svg></body></html>
